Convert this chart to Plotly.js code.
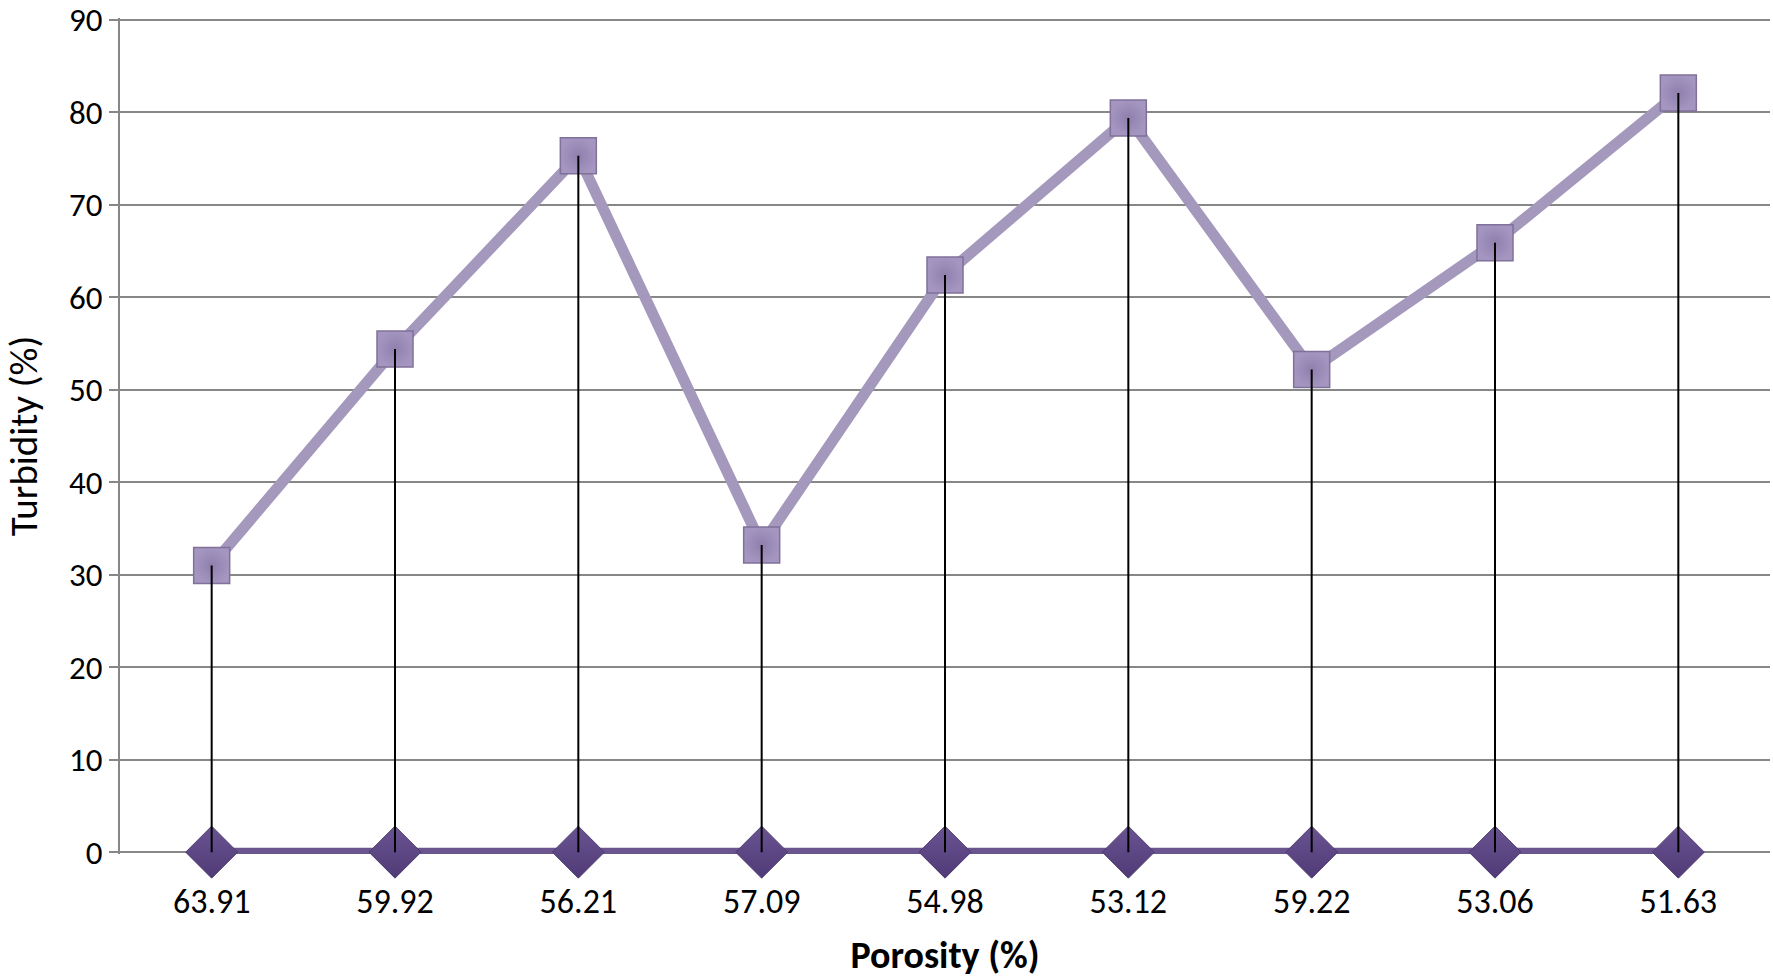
<!DOCTYPE html>
<html>
<head>
<meta charset="utf-8">
<script src="https://cdn.plot.ly/plotly-3.0.1.min.js"></script>
<style>
html,body{margin:0;padding:0;background:#fff;}
#chart{width:1773px;height:978px;}
</style>
</head>
<body>
<div id="chart"></div>
<script>
const porosity = ["63.91","59.92","56.21","57.09","54.98","53.12","59.22","53.06","51.63"];
const turbidity = [31.0, 54.4, 75.3, 33.2, 62.4, 79.4, 52.2, 65.9, 82.1];
const baseline = [0, 0, 0, 0, 0, 0, 0, 0, 0];
const yTicks = [0,10,20,30,40,50,60,70,80,90];

// drop lines built from the data
const dropX = [], dropY = [];
porosity.forEach((p, i) => { dropX.push(p, p, null); dropY.push(turbidity[i], baseline[i], null); });

const FONT = "Carlito, Lato, 'Open Sans', sans-serif";

const traces = [
  {
    x: porosity, y: baseline, type: 'scatter', mode: 'lines+markers',
    line: {color: '#6B558F', width: 9},
    marker: {symbol: 'diamond', size: 40, color: '#6A5391',
             line: {color: '#4E3C72', width: 1},
             gradient: {type: 'vertical', color: '#4F3B77'}},
    cliponaxis: false, hoverinfo: 'x+y', showlegend: false
  },
  {
    x: porosity, y: turbidity, type: 'scatter', mode: 'lines+markers',
    line: {color: '#A598BD', width: 11},
    marker: {symbol: 'square', size: 36, color: '#A496C0',
             line: {color: '#7F7199', width: 1.5},
             gradient: {type: 'radial', color: '#8E7FAE'}},
    cliponaxis: false, hoverinfo: 'x+y', showlegend: false
  },
  {
    x: dropX, y: dropY, type: 'scatter', mode: 'lines',
    line: {color: '#000000', width: 2},
    hoverinfo: 'skip', showlegend: false, cliponaxis: false
  }
];

const layout = {
  width: 1773, height: 978,
  margin: {l: 120, r: 3, t: 18, b: 124},
  paper_bgcolor: '#ffffff', plot_bgcolor: '#ffffff',
  font: {family: FONT, color: '#000', size: 32},
  xaxis: {
    type: 'category', categoryarray: porosity, categoryorder: 'array',
    range: [-0.5, porosity.length - 0.5],
    showgrid: false, zeroline: false, showline: false,
    ticks: '', ticklabelstandoff: 24,
    tickfont: {family: FONT, size: 34, color: '#000'},
    title: {text: '<b>Porosity (%)</b>', font: {family: FONT, size: 38, color: '#000'}, standoff: 22}
  },
  yaxis: {
    range: [-0.2, 90.2], tickvals: yTicks, ticktext: yTicks.map(String),
    ticklabeloverflow: 'allow',
    showgrid: true, gridcolor: '#878787', gridwidth: 2,
    zeroline: true, zerolinecolor: '#878787', zerolinewidth: 2,
    showline: true, linecolor: '#878787', linewidth: 2,
    ticks: 'outside', ticklen: 9, tickcolor: '#878787', tickwidth: 2,
    tickfont: {family: FONT, size: 33, color: '#000'},
    title: {text: 'Turbidity (%)', font: {family: FONT, size: 39, color: '#000'}, standoff: 25}
  }
};

Plotly.newPlot('chart', traces, layout, {displayModeBar: false, staticPlot: true});
</script>
</body>
</html>
